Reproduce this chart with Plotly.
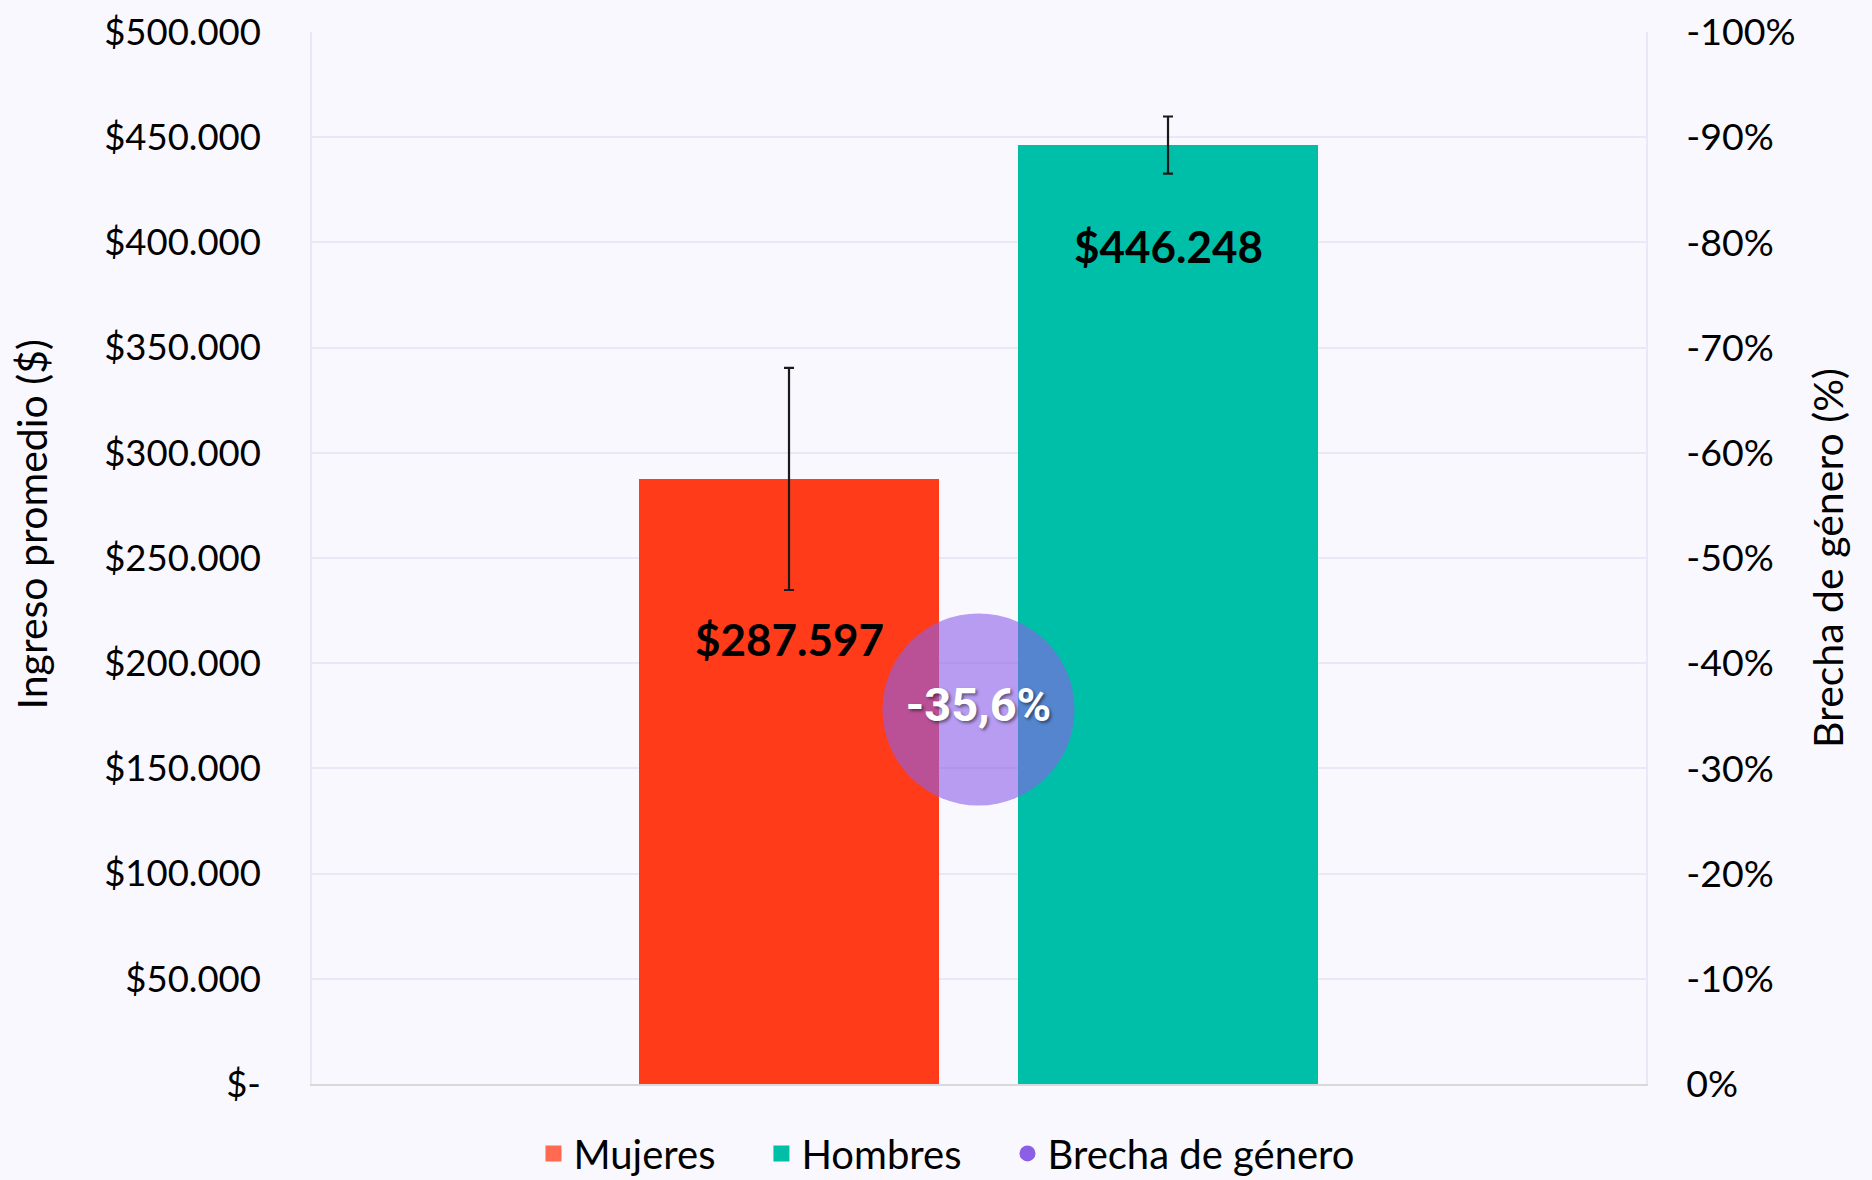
import plotly.graph_objects as go

# ---- data ----
categories = ["Mujeres", "Hombres"]
ingreso = [287597, 446248]
error_ingreso = [52800, 13600]
bar_labels = ["$287.597", "$446.248"]
brecha_pct = -35.6
brecha_label = "-35,6%"
legend_names = ["Mujeres", "Hombres", "Brecha de género"]
y_title = "Ingreso promedio ($)"
y2_title = "Brecha de género (%)"
y_tickvals = [0, 50000, 100000, 150000, 200000, 250000, 300000, 350000, 400000, 450000, 500000]
y_ticktext = ["$-", "$50.000", "$100.000", "$150.000", "$200.000", "$250.000",
              "$300.000", "$350.000", "$400.000", "$450.000", "$500.000"]
y2_tickvals = [0, -10, -20, -30, -40, -50, -60, -70, -80, -90, -100]
y2_ticktext = ["0%", "-10%", "-20%", "-30%", "-40%", "-50%", "-60%", "-70%", "-80%", "-90%", "-100%"]

# ---- style ----
bar_colors = ["#FF3B1A", "#00BFA8"]
legend_colors = ["#FF6A50", "#00BFA8"]
bubble_color = "#8C5FE7"
bg = "#F8F8FE"
grid = "#E8E8F7"
font_family = "Lato, 'Noto Sans', sans-serif"
label_y = [211500, 398300]  # vertical placement of value labels
NB = "\u00a0"

xpos = list(range(len(categories)))

fig = go.Figure()
for i, cat in enumerate(categories):
    fig.add_trace(go.Bar(
        x=[xpos[i]], y=[ingreso[i]], width=0.7916,
        marker=dict(color=bar_colors[i], line=dict(width=0)),
        error_y=dict(type="data", array=[error_ingreso[i]], color="#1a1a1a",
                     thickness=2.2, width=5),
        showlegend=False, name=cat, hoverinfo="skip",
    ))
    fig.add_annotation(x=xpos[i], y=label_y[i], text=f"<b>{bar_labels[i]}</b>",
                       showarrow=False, font=dict(family=font_family, size=44, color="#000"),
                       xref="x", yref="y")

# bubble for gap
fig.add_trace(go.Scatter(
    x=[sum(xpos) / len(xpos)], y=[brecha_pct], yaxis="y2",
    mode="markers+text",
    marker=dict(size=192, color=bubble_color, opacity=0.6, line=dict(width=0)),
    text=[f"<b>{brecha_label}</b>"], textposition="middle center",
    textfont=dict(family="Roboto, sans-serif", size=47, color="white",
                  shadow="2px 2px 3px rgba(0,0,0,0.45)"),
    showlegend=False, hoverinfo="skip",
))

# legend entries
for i in range(len(categories)):
    fig.add_trace(go.Scatter(x=[None], y=[None], mode="markers", name=legend_names[i] + NB * 4,
                             marker=dict(symbol="square", size=24, color=legend_colors[i])))
fig.add_trace(go.Scatter(x=[None], y=[None], mode="markers", name=legend_names[2],
                         marker=dict(symbol="circle", size=24, color=bubble_color)))

# left axis title (placed slightly above centre, as in the reference)
fig.add_annotation(text=y_title, textangle=-90, xref="paper", yref="paper",
                   x=-0.2099, y=0.5328, xanchor="center", yanchor="middle",
                   showarrow=False, font=dict(family=font_family, size=41, color="#000"))

fig.update_layout(
    width=1872, height=1180,
    margin=dict(l=312, r=226, t=32, b=96, autoexpand=False),
    paper_bgcolor=bg, plot_bgcolor=bg,
    font=dict(family=font_family, size=36, color="#000"),
    barmode="overlay",
    showlegend=True,
    legend=dict(orientation="h", x=0.476, xanchor="center", y=-0.066, yanchor="middle",
                font=dict(size=40), bgcolor="rgba(0,0,0,0)", itemsizing="trace"),
    xaxis=dict(range=[-1.2586, 2.2612], showticklabels=False, showgrid=False,
               zeroline=False, showline=True, linecolor="#D9D9D9", linewidth=2,
               fixedrange=True),
    yaxis=dict(range=[0, 500000], tickvals=y_tickvals, ticktext=y_ticktext,
               showgrid=True, gridcolor=grid, gridwidth=1.5, zeroline=False,
               showline=True, linecolor=grid, linewidth=1.5,
               ticks="", ticklabelstandoff=42, tickfont=dict(size=36.5)),
    yaxis2=dict(range=[0, -100], overlaying="y", side="right",
                tickvals=y2_tickvals, ticktext=y2_ticktext,
                showgrid=False, zeroline=False, showline=True, linecolor=grid, linewidth=1.5,
                ticks="", ticklabelstandoff=31, tickfont=dict(size=37.5),
                title=dict(text=y2_title, font=dict(size=41), standoff=20)),
)

fig.write_html("out.html", config={"displayModeBar": False},
               post_script="document.body.style.margin='0';document.body.style.overflow='hidden';")
